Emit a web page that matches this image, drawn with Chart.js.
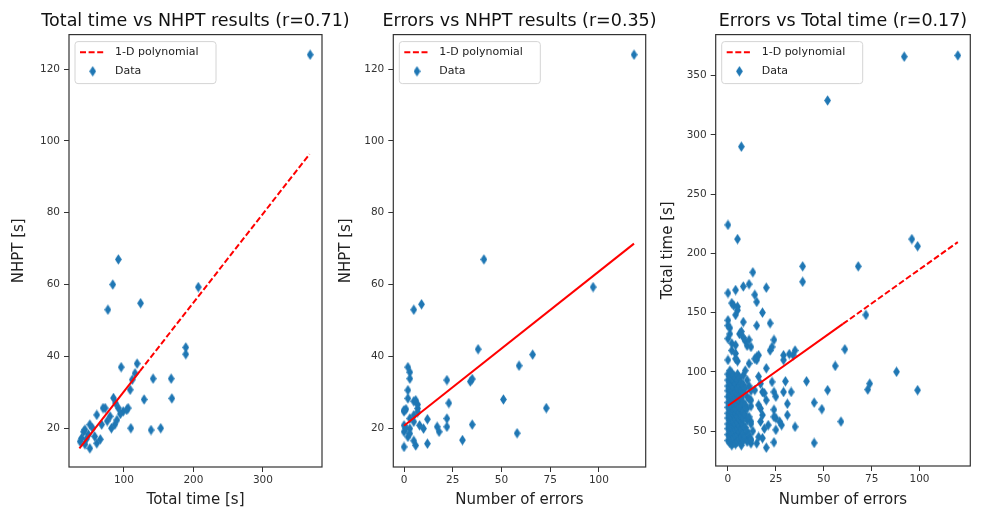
<!DOCTYPE html>
<html>
<head>
<meta charset="utf-8">
<script src="https://cdn.jsdelivr.net/npm/chart.js@4.4.1/dist/chart.umd.min.js"></script>
<style>
  html, body { margin: 0; padding: 0; background: #fff; overflow: hidden; }
  canvas { position: absolute; top: 0; }
</style>
</head>
<body>
<!-- canvases overlap (transparent) so each title is centred over its own axes -->
<canvas id="c1" width="391" height="510" style="left:0px"></canvas>
<canvas id="c2" width="379" height="510" style="left:330px"></canvas>
<canvas id="c3" width="376" height="510" style="left:655px"></canvas>
<script>
// ---- data ----
// panel 1: total time [s] vs NHPT [s]
const timeA = [368, 92, 84, 77, 124, 207, 189, 189, 96, 119,
               116, 112, 109, 142, 168, 169, 129, 110, 139, 153,
               85, 92, 106, 99, 73, 61, 80, 87, 82, 68,
               51, 44, 49, 58, 39, 61, 44, 37, 51, 66,
               70, 90, 104, 55, 76, 46, 42, 88, 95];
const nhptA = [124, 67, 60, 53, 54.8, 59.3, 42.5, 40.6, 37, 38,
               35.3, 33.5, 30.7, 33.8, 33.8, 28.3, 28, 20, 19.5, 20,
               28.4, 25.6, 25.6, 24.7, 25.6, 23.7, 23.3, 21, 20, 21,
               21, 19.6, 18.2, 17.7, 17.2, 15.8, 15.5, 16.3, 14.4, 16.9,
               25.6, 22.3, 25.1, 20, 22, 17, 19, 27, 24];
const fitTimeA = [36, 123, 367];
const fitNhptA = [14.4, 35.9, 96.3];

// panel 2: number of errors vs NHPT [s]
const errB = [118, 41, 5, 9, 97, 38, 66, 59, 22, 34,
              35, 23, 51, 73, 58, 35, 30, 22, 22, 17,
              18, 12, 12, 10, 8, 6, 5, 0, 0, 0,
              0, 1, 2, 3, 3, 2, 2, 5, 6, 7,
              7, 3, 3, 2, 5, 5, 7, 3, 0, 1];
const nhptB = [124, 67, 53, 54.5, 59.3, 42, 40.5, 37.4, 33.4, 33,
               33.7, 27, 28, 25.6, 18.6, 21, 16.7, 22.7, 20.4, 20.4,
               19, 15.7, 22.5, 19.9, 20.8, 15.2, 16.5, 14.8, 19, 20.8,
               24.7, 25.3, 37, 35.6, 33.8, 30.6, 28.3, 27.5, 27.8, 26.6,
               25.5, 22.7, 19.9, 17.6, 21.8, 23.6, 24.5, 18.5, 25, 20];
const fitErrB = [0, 118];
const fitNhptB = [20.7, 71.4];

// panel 3: number of errors vs total time [s]
const errC = [
  0, 5, 7, 52, 92, 120, 96, 99, 39, 39,
  68, 72, 61, 56, 88, 74, 73, 99, 52, 41,
  45, 49, 59, 35, 34, 33, 35, 45, 13, 11,
  8, 20, 0, 4, 14, 15, 2, 5, 4, 18,
  8, 0, 22, 15, 1, 6, 8, 24, 9, 10,
  4, 2, 22, 29, 15, 15, 5, 20, 30, 23,
  29, 24, 18, 31, 24, 17, 16, 20, 31, 25,
  28, 21, 17, 12, 15, 18, 20, 24, 13, 19,
  12, 3, 5, 0, 1, 7, 0, 2, 11, 12,
  23, 4, 16, 32, 0, 4, 14, 11, 9, 29,
  16, 17, 19, 14, 12, 25, 18, 24, 27, 25,
  11, 12, 16,
  0, 0, 0, 0, 0, 0, 0, 0, 0, 0, 0, 0, 0,
  1, 1, 1, 1, 1, 1, 1, 1, 1, 1, 1, 1, 1, 1,
  2, 2, 2, 2, 2, 2, 2, 2, 2, 2, 2, 2, 2, 2,
  3, 3, 3, 3, 3, 3, 3, 3, 3, 3, 3, 3, 3,
  4, 4, 4, 4, 4, 4, 4, 4, 4, 4, 4, 4,
  5, 5, 5, 5, 5, 5, 5, 5, 5, 5, 5, 5,
  6, 6, 6, 6, 6, 6, 6, 6, 6, 6,
  7, 7, 7, 7, 7, 7, 7, 7, 7,
  8, 8, 8, 8, 8, 8, 8, 8, 8,
  9, 9, 9, 9, 9,
  10, 10, 10, 10, 10, 10,
  11, 11, 11, 11,
  12, 12, 12, 12
];
const timeC = [
  224, 212, 290, 329, 366, 367, 212, 206, 189, 176,
  189, 148, 119, 105, 100, 90, 85, 84.5, 84.5, 92,
  74, 68.5, 58, 118, 114, 83, 53.6, 40, 184, 174,
  172, 171, 166.5, 169, 165, 159, 158, 155, 148, 150,
  142, 143.5, 141, 139, 137, 132, 129, 127, 126, 122,
  122.5, 118, 118, 114, 112.6, 110, 109, 103, 92, 91.5,
  83, 83, 83, 73, 68, 69, 72, 76, 63.5, 61,
  55, 55, 58, 39.6, 39.6, 44, 36, 40.5, 50, 52,
  58, 156, 152, 139, 132, 134, 128, 124, 127, 121,
  121, 115.5, 114, 115, 110, 111, 111, 107, 101, 110,
  96, 90, 82, 84.5, 76, 79, 63.5, 62, 58, 51,
  44, 42, 45,
  42, 47, 52, 56, 61, 65, 70, 74, 79, 84, 88, 93, 98,
  40, 45, 50, 54, 59, 63, 68, 72, 77, 81, 86, 91, 96, 101,
  38, 43, 48, 53, 57, 62, 66, 71, 75, 80, 85, 89, 94, 99,
  40, 44, 49, 55, 58, 64, 67, 73, 76, 82, 87, 92, 97,
  39, 46, 51, 56, 60, 65, 69, 74, 78, 83, 90, 95,
  41, 47, 52, 57, 62, 68, 72, 77, 81, 86, 93, 98,
  43, 49, 54, 60, 66, 70, 75, 80, 88, 95,
  38, 45, 51, 58, 63, 71, 78, 84, 91,
  42, 48, 55, 61, 67, 74, 82, 89, 97,
  45, 53, 64, 72, 86,
  41, 50, 59, 69, 79, 93,
  47, 62, 77, 88,
  43, 56, 71, 84
];
const fitErrC = [0, 60, 120];
const fitTimeC = [71.3, 140.4, 209.5];

// tick labels
const ticksTimeA = [100, 200, 300];
const ticksNhpt = [20, 40, 60, 80, 100, 120];
const ticksErr = [0, 25, 50, 75, 100];
const ticksTimeC = [50, 100, 150, 200, 250, 300, 350];

// ---- drawing ----
const FONT = "'DejaVu Sans', sans-serif";
const BLUE = '#1f77b4';

// matplotlib style thin diamond
function makeDiamond() {
  const c = document.createElement('canvas');
  c.width = 7; c.height = 11;
  const g = c.getContext('2d');
  g.fillStyle = BLUE;
  g.beginPath();
  g.moveTo(3.5, 0.2); g.lineTo(6.9, 5.5); g.lineTo(3.5, 10.8); g.lineTo(0.1, 5.5);
  g.closePath();
  g.fill();
  return c;
}
const diamond = makeDiamond();

const toPoints = (xs, ys) => xs.map((x, i) => ({ x: x, y: ys[i] }));

// four spines around the axes
const frame = {
  id: 'frame',
  afterDatasetsDraw(chart) {
    const a = chart.chartArea, ctx = chart.ctx;
    ctx.save();
    ctx.strokeStyle = '#333';
    ctx.lineWidth = 1.2;
    ctx.strokeRect(a.left, a.top, a.right - a.left, a.bottom - a.top);
    ctx.restore();
  }
};

// legend box in the upper left corner of the axes
const boxLegend = {
  id: 'boxLegend',
  afterDraw(chart) {
    const a = chart.chartArea, ctx = chart.ctx;
    const ds = chart.data.datasets;
    const x = a.left + 6, y = a.top + 7;
    ctx.save();
    ctx.beginPath();
    ctx.roundRect(x, y, 141, 42, 3);
    ctx.fillStyle = 'rgba(255,255,255,0.8)';
    ctx.fill();
    ctx.strokeStyle = '#d4d4d4';
    ctx.lineWidth = 1;
    ctx.stroke();

    ctx.strokeStyle = ds[0].borderColor;
    ctx.lineWidth = 2;
    ctx.setLineDash([6, 2.6]);
    ctx.beginPath();
    ctx.moveTo(x + 5, y + 10.7);
    ctx.lineTo(x + 30, y + 10.7);
    ctx.stroke();
    ctx.setLineDash([]);
    ctx.drawImage(diamond, x + 17.7 - diamond.width / 2, y + 29.7 - diamond.height / 2);

    ctx.fillStyle = '#222';
    ctx.font = '11px ' + FONT;
    ctx.textBaseline = 'middle';
    ctx.fillText(ds[0].label, x + 40, y + 10.7);
    ctx.fillText(ds[1].label, x + 40, y + 29.7);
    ctx.restore();
  }
};

function axis(min, max, tickValues, label, fitSize, isX, titlePad) {
  return {
    type: 'linear',
    min: min,
    max: max,
    afterBuildTicks: s => { s.ticks = tickValues.map(v => ({ value: v })); },
    afterFit: s => { if (isX) s.height = fitSize; else s.width = fitSize; },
    border: { display: false },
    grid: { drawOnChartArea: false, drawTicks: true, tickLength: 5, color: '#333', lineWidth: 1 },
    ticks: {
      padding: isX ? 2 : 4,
      color: '#333',
      font: { family: FONT, size: 10.5 },
      callback: v => String(v)
    },
    title: {
      display: true,
      text: label,
      color: '#222',
      font: { family: FONT, size: 15 },
      padding: titlePad
    }
  };
}

// empty right axis, as wide as the left one, keeps the title centred on the axes
function spacer(width) {
  return {
    position: 'right',
    display: true,
    grid: { display: false },
    border: { display: false },
    ticks: { display: false },
    afterFit: s => { s.width = width; }
  };
}

function buildChart(id, o) {
  return new Chart(document.getElementById(id), {
    type: 'scatter',
    data: {
      datasets: [
        {
          label: '1-D polynomial',
          data: o.fit,
          showLine: true,
          borderColor: '#ff0000',
          borderWidth: 2,
          pointRadius: 0,
          segment: { borderDash: c => c.p0DataIndex >= o.dashFrom ? [6, 2.6] : [] }
        },
        {
          label: 'Data',
          data: o.points,
          pointStyle: diamond,
          pointRadius: 5,
          pointHoverRadius: 5
        }
      ]
    },
    options: {
      responsive: false,
      animation: false,
      events: [],
      layout: { autoPadding: false, padding: 0 },
      plugins: {
        legend: { display: false },
        tooltip: { enabled: false },
        title: {
          display: true,
          text: o.title,
          color: '#111',
          font: { family: FONT, size: 17.5, weight: 'normal' },
          padding: { top: 11, bottom: 2.6 }
        }
      },
      scales: {
        x: axis(o.x[0], o.x[1], o.xTicks, o.xLabel, o.xHeight, true, { top: 2, bottom: 1 }),
        y: axis(o.y[0], o.y[1], o.yTicks, o.yLabel, o.yWidth, false, { top: o.yTitlePad, bottom: 0 }),
        yRight: spacer(o.yWidth)
      }
    },
    plugins: [frame, boxLegend]
  });
}

buildChart('c1', {
  title: 'Total time vs NHPT results (r=0.71)',
  points: toPoints(timeA, nhptA),
  fit: toPoints(fitTimeA, fitNhptA),
  dashFrom: 1,
  x: [21, 385], y: [9.2, 129.6],
  xTicks: ticksTimeA, yTicks: ticksNhpt,
  xLabel: 'Total time [s]', yLabel: 'NHPT [s]',
  yWidth: 69, xHeight: 43, yTitlePad: 10
});

buildChart('c2', {
  title: 'Errors vs NHPT results (r=0.35)',
  points: toPoints(errB, nhptB),
  fit: toPoints(fitErrB, fitNhptB),
  dashFrom: 99,
  x: [-5.5, 124], y: [9.2, 129.6],
  xTicks: ticksErr, yTicks: ticksNhpt,
  xLabel: 'Number of errors', yLabel: 'NHPT [s]',
  yWidth: 63.3, xHeight: 43, yTitlePad: 7.6
});

buildChart('c3', {
  title: 'Errors vs Total time (r=0.17)',
  points: toPoints(errC, timeC),
  fit: toPoints(fitErrC, fitTimeC),
  dashFrom: 1,
  x: [-6.4, 126.5], y: [20.5, 384.6],
  xTicks: ticksErr, yTicks: ticksTimeC,
  xLabel: 'Number of errors', yLabel: 'Total time [s]',
  yWidth: 60.7, xHeight: 44, yTitlePad: 4.5
});
</script>
</body>
</html>
